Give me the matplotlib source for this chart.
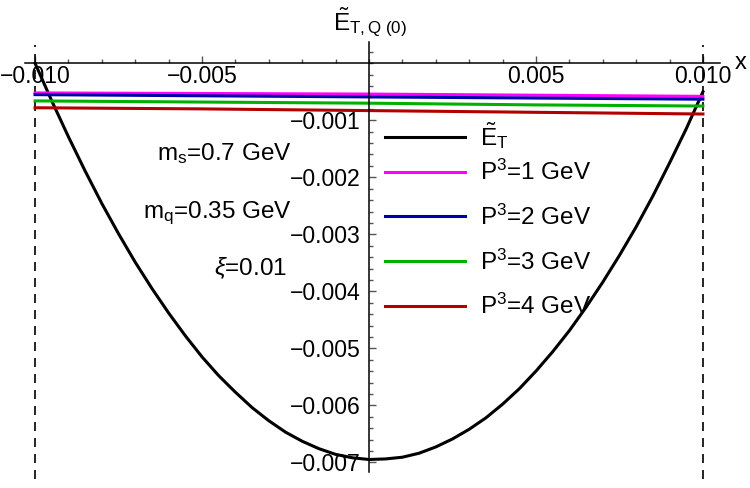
import numpy as np
import matplotlib
matplotlib.use("Agg")
import matplotlib.pyplot as plt
from matplotlib.ticker import FixedLocator, FixedFormatter

plt.rcParams['font.family'] = ['Liberation Sans', 'DejaVu Sans']
plt.rcParams['mathtext.fontset'] = 'custom'
plt.rcParams['mathtext.rm'] = 'Liberation Sans'
plt.rcParams['mathtext.it'] = 'Liberation Sans:italic'

# black curve
x_curve = [-0.010, -0.0095, -0.009, -0.0085, -0.008, -0.0075, -0.007, -0.0065,
           -0.006, -0.0055, -0.005, -0.0045, -0.004, -0.0035, -0.003, -0.0025,
           -0.002, -0.0015, -0.001, -0.0005, 0.0, 0.0005, 0.001, 0.0015, 0.002,
           0.0025, 0.003, 0.0035, 0.004, 0.0045, 0.005, 0.0055, 0.006, 0.0065,
           0.007, 0.0075, 0.008, 0.0085, 0.009, 0.0095, 0.010]
e_tilde = [0.0, -0.00066, -0.00129, -0.00189, -0.00246, -0.00299, -0.00349, -0.00395,
           -0.00438, -0.00478, -0.00515, -0.00548, -0.00577, -0.00604, -0.00627, -0.00647,
           -0.00663, -0.00676, -0.00686, -0.00692, -0.00695, -0.00694, -0.00691, -0.00684,
           -0.00673, -0.00659, -0.00642, -0.00622, -0.00598, -0.00571, -0.00540, -0.00506,
           -0.00469, -0.00428, -0.00384, -0.00337, -0.00287, -0.00233, -0.00175, -0.00115,
           -0.00050]

# momentum curves
x_p = [-0.010, -0.005, 0.0, 0.005, 0.010]
p1 = [-0.00052, -0.00053, -0.00054, -0.00056, -0.00058]
p2 = [-0.00055, -0.00057, -0.00059, -0.00061, -0.00063]
p3 = [-0.00066, -0.00068, -0.00070, -0.00073, -0.00075]
p4 = [-0.00078, -0.00080, -0.00083, -0.00086, -0.00089]

p_labels = [r'P$^3$=1 GeV', r'P$^3$=2 GeV', r'P$^3$=3 GeV', r'P$^3$=4 GeV']
p_colors = ['#ff00ff', '#0000a8', '#00b000', '#b00000']

xticks = [-0.010, -0.005, 0.005, 0.010]
xtick_labels = ['\u22120.010', '\u22120.005', '0.005', '0.010']
yticks = [-0.007, -0.006, -0.005, -0.004, -0.003, -0.002, -0.001]
ytick_labels = ['\u22120.00%d' % i for i in range(7, 0, -1)]

fig = plt.figure(figsize=(7.5, 4.88), dpi=100)
ax = fig.add_axes([0, 0, 1, 1])
ax.set_xlim(-0.01105, 0.01141)
ax.set_ylim(-0.00745, 0.00111)

# dashed boundaries
ax.vlines([-0.010, 0.010], -0.0073, 0.00032, colors='black', linewidth=1.2,
          linestyles=(0, (5.4, 4.2)))

h_e, = ax.plot(x_curve, e_tilde, color='black', linewidth=2.2,
               label=r'$\tilde{\mathrm{E}}_\mathrm{T}$')
p_handles = []
for ys, lab, col in zip([p1, p2, p3, p4], p_labels, p_colors):
    h, = ax.plot(x_p, ys, color=col, linewidth=2.2, label=lab)
    p_handles.append(h)

# axes through origin
for s in ['top', 'right']:
    ax.spines[s].set_visible(False)
ax.spines['left'].set_position(('data', 0))
ax.spines['bottom'].set_position(('data', 0))
ax.spines['left'].set_bounds(-0.00717, 0.00037)
ax.spines['bottom'].set_bounds(-0.0103, 0.0105)
for s in ['left', 'bottom']:
    ax.spines[s].set_linewidth(1.1)

ax.xaxis.set_major_locator(FixedLocator(xticks))
ax.xaxis.set_major_formatter(FixedFormatter(xtick_labels))
ax.xaxis.set_minor_locator(FixedLocator(np.round(np.arange(-0.010, 0.0101, 0.001), 4)))
ax.yaxis.set_major_locator(FixedLocator(yticks))
ax.yaxis.set_major_formatter(FixedFormatter(ytick_labels))
ax.yaxis.set_minor_locator(FixedLocator(np.round(np.arange(-0.007, 0.00021, 0.0002), 5)))
ax.tick_params(which='both', direction='in', color='#555555', width=1.0, labelsize=16.6)
ax.tick_params(which='major', length=5)
ax.tick_params(which='minor', length=3)
ax.tick_params(axis='x', pad=1)
ax.tick_params(axis='y', pad=6)

fig.text(370 / 750, 1 - 22 / 488, r'$\tilde{\mathrm{E}}_{\mathrm{T,Q\ (0)}}$',
         ha='center', va='center', fontsize=17.5)
fig.text(741 / 750, 1 - 63 / 488, 'x', ha='center', va='center', fontsize=17)

fig.text(292 / 750, 1 - 160 / 488, r'm$_\mathrm{s}$=0.7 GeV', ha='right', va='baseline', fontsize=17.5)
fig.text(292 / 750, 1 - 218 / 488, r'm$_\mathrm{q}$=0.35 GeV', ha='right', va='baseline', fontsize=17.5)
fig.text(287 / 750, 1 - 275 / 488, r'$\xi$=0.01', ha='right', va='baseline', fontsize=17.5)

leg_kw = dict(loc='upper left', bbox_transform=fig.transFigure, frameon=False,
              borderpad=0, borderaxespad=0, handlelength=3.3, handletextpad=0.62,
              fontsize=17.5)
leg1 = ax.legend(handles=[h_e], bbox_to_anchor=(385 / 750, 1 - 120 / 488), **leg_kw)
ax.add_artist(leg1)
ax.legend(handles=p_handles, bbox_to_anchor=(385 / 750, 1 - 160 / 488),
          labelspacing=0.8, **leg_kw)

fig.savefig('out.png', dpi=100)
